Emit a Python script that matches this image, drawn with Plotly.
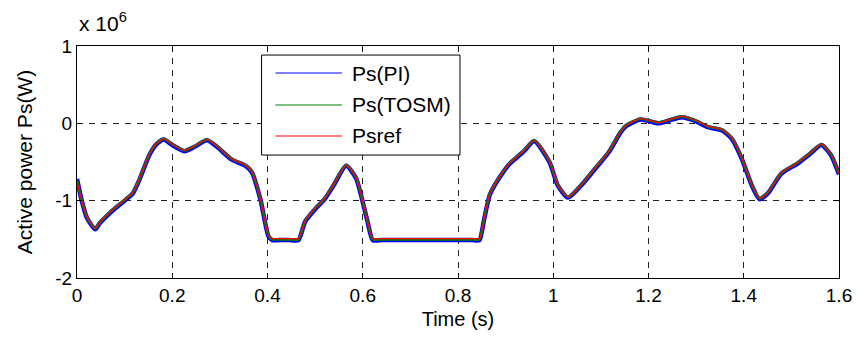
import plotly.graph_objects as go

# Time (s)
t = [0.000, 0.010, 0.020, 0.038, 0.048, 0.069, 0.104, 0.117, 0.131, 0.152, 0.167,
     0.182, 0.200, 0.225, 0.245, 0.273, 0.295, 0.325, 0.354, 0.367, 0.385, 0.402,
     0.410, 0.425, 0.445, 0.465, 0.479, 0.500, 0.520, 0.540, 0.565, 0.586, 0.596,
     0.610, 0.621, 0.640, 0.680, 0.720, 0.760, 0.800, 0.830,
     0.845, 0.854, 0.867, 0.895, 0.909, 0.937, 0.960, 0.992, 1.010, 1.031, 1.062,
     1.085, 1.117, 1.140, 1.152, 1.183, 1.221, 1.245, 1.270, 1.298, 1.325, 1.354,
     1.375, 1.396, 1.416, 1.433, 1.450, 1.479, 1.513, 1.540, 1.563, 1.583, 1.600]

# Active power (x 10^6 W)
ps_ref = [-0.75, -1.00, -1.20, -1.36, -1.28, -1.15, -0.97, -0.90, -0.72, -0.40, -0.26,
          -0.20, -0.27, -0.35, -0.30, -0.21, -0.30, -0.46, -0.54, -0.62, -0.97, -1.45,
          -1.49, -1.49, -1.49, -1.49, -1.26, -1.10, -0.97, -0.78, -0.54, -0.70, -0.91,
          -1.26, -1.49, -1.49, -1.49, -1.49, -1.49, -1.49, -1.49,
          -1.49, -1.26, -0.91, -0.62, -0.51, -0.36, -0.22, -0.49, -0.80, -0.95, -0.77,
          -0.60, -0.36, -0.12, -0.03, 0.06, 0.01, 0.05, 0.09, 0.04, -0.04, -0.08,
          -0.19, -0.45, -0.78, -0.97, -0.90, -0.64, -0.51, -0.38, -0.27, -0.40, -0.65]
ps_tosm = [-0.74, -1.00, -1.20, -1.36, -1.28, -1.15, -0.97, -0.90, -0.72, -0.40, -0.26,
           -0.20, -0.27, -0.35, -0.30, -0.21, -0.30, -0.46, -0.54, -0.62, -0.97, -1.45,
           -1.50, -1.50, -1.50, -1.50, -1.26, -1.10, -0.97, -0.78, -0.54, -0.70, -0.91,
           -1.26, -1.50, -1.50, -1.50, -1.50, -1.50, -1.50, -1.50,
           -1.50, -1.26, -0.91, -0.62, -0.51, -0.36, -0.22, -0.49, -0.80, -0.95, -0.77,
           -0.60, -0.36, -0.12, -0.03, 0.06, 0.01, 0.05, 0.09, 0.04, -0.04, -0.08,
           -0.19, -0.45, -0.78, -0.97, -0.90, -0.64, -0.51, -0.38, -0.27, -0.40, -0.65]
ps_pi = [-0.72, -1.00, -1.21, -1.37, -1.29, -1.16, -0.98, -0.91, -0.73, -0.41, -0.27,
         -0.21, -0.28, -0.36, -0.31, -0.22, -0.31, -0.47, -0.55, -0.63, -0.98, -1.46,
         -1.51, -1.51, -1.51, -1.51, -1.27, -1.11, -0.98, -0.79, -0.55, -0.71, -0.92,
         -1.27, -1.51, -1.51, -1.51, -1.51, -1.51, -1.51, -1.51,
         -1.51, -1.27, -0.92, -0.63, -0.52, -0.37, -0.23, -0.50, -0.81, -0.96, -0.78,
         -0.61, -0.37, -0.13, -0.04, 0.05, 0.00, 0.04, 0.08, 0.03, -0.05, -0.09,
         -0.20, -0.46, -0.79, -0.98, -0.91, -0.65, -0.52, -0.39, -0.28, -0.41, -0.66]

x_ticks = [0, 0.2, 0.4, 0.6, 0.8, 1.0, 1.2, 1.4, 1.6]
x_tick_text = ["0", "0.2", "0.4", "0.6", "0.8", "1", "1.2", "1.4", "1.6"]
y_ticks = [-2, -1, 0, 1]
y_tick_text = ["-2", "-1", "0", "1"]

names = ["Ps(PI)", "Ps(TOSM)", "Psref"]
colors = ["#0000ff", "#008000", "#ff0000"]
widths = [4.5, 2.6, 1.3]
series = [ps_pi, ps_tosm, ps_ref]

FONT = "Liberation Sans, Arial, sans-serif"

fig = go.Figure()
for name, col, w, ys in zip(names, colors, widths, series):
    fig.add_trace(go.Scatter(x=t, y=ys, mode="lines", name=name,
                             line=dict(color=col, width=w, shape="spline", smoothing=0.6),
                             showlegend=False))

axis_common = dict(
    showline=True, linecolor="black", linewidth=1, mirror="ticks",
    ticks="inside", ticklen=5, tickcolor="black",
    showgrid=True, gridcolor="#222222", gridwidth=1, griddash="6px,6px",
    zeroline=False, tickfont=dict(family=FONT, size=19, color="black"),
)

fig.update_xaxes(range=[0, 1.6], tickvals=x_ticks, ticktext=x_tick_text,
                 title=dict(text="Time (s)", font=dict(family=FONT, size=20, color="black"),
                            standoff=7), **axis_common)
fig.update_yaxes(range=[-2, 1], tickvals=y_ticks, ticktext=y_tick_text,
                 title=dict(text="Active power Ps(W)", font=dict(family=FONT, size=21, color="black"),
                            standoff=16), **axis_common)

# manual legend (MATLAB style)
shapes = [dict(type="rect", xref="paper", yref="paper", x0=0.2422, x1=0.5026,
               y0=0.530, y1=0.961, line=dict(color="black", width=1), fillcolor="white",
               layer="above")]
annotations = []
for (name, col), yy in zip(zip(names, colors), [0.8836, 0.7457, 0.6121]):
    shapes.append(dict(type="line", xref="paper", yref="paper", x0=0.2604, x1=0.3477,
                       y0=yy, y1=yy, line=dict(color=col, width=1.2), layer="above"))
    annotations.append(dict(xref="paper", yref="paper", x=0.3581, y=yy, text=name,
                            showarrow=False, xanchor="left", yanchor="middle",
                            font=dict(family=FONT, size=21, color="black")))

annotations.append(dict(xref="paper", yref="paper", x=0.0, y=1.04, text="x 10<sup>6</sup>",
                        showarrow=False, xanchor="left", yanchor="bottom",
                        font=dict(family=FONT, size=21, color="black")))

fig.update_layout(
    width=864, height=340,
    margin=dict(l=77, r=19, t=46, b=62),
    paper_bgcolor="white", plot_bgcolor="white",
    shapes=shapes, annotations=annotations,
    font=dict(family=FONT, color="black"),
)

fig.write_html("out.html")
